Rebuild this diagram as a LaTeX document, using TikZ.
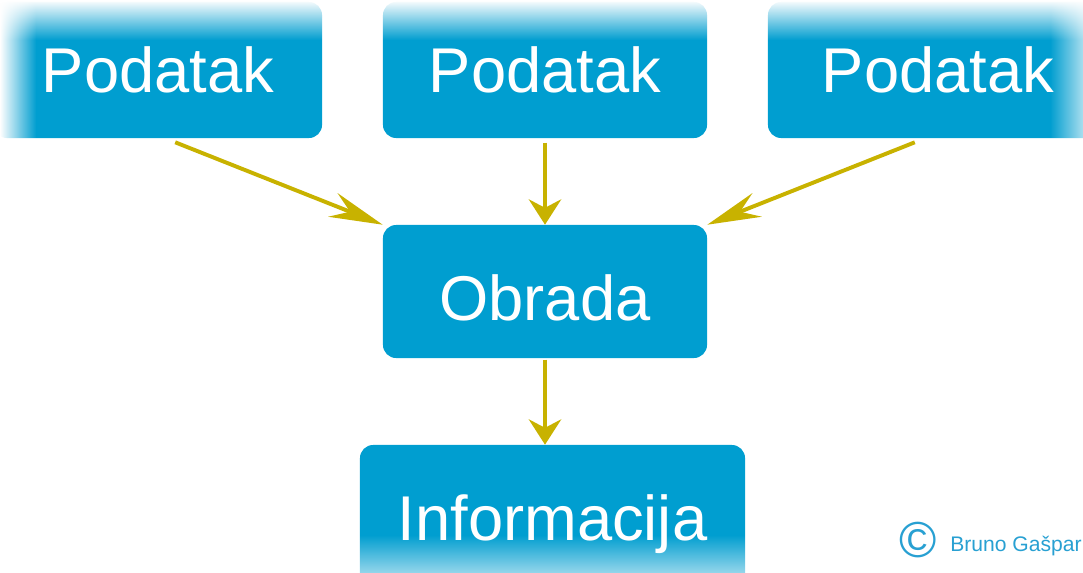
\documentclass[tikz,border=0pt]{standalone}
\usepackage{fontspec}
\setmainfont{Liberation Sans}
\usetikzlibrary{arrows.meta,fadings}
\definecolor{boxblue}{RGB}{0,158,208}
\definecolor{arrowgold}{RGB}{200,178,0}
\definecolor{signblue}{RGB}{40,160,210}

\begin{document}
\begin{tikzpicture}[x=0.025cm,y=-0.025cm,
  box/.style={rectangle,rounded corners=0.33cm,fill=boxblue,text=white,inner sep=0pt,font=\fontsize{45}{50}\selectfont,text height=32pt,text depth=0pt},
  flow/.style={draw=arrowgold,line width=2.8pt,-{Stealth[length=18pt,width=23pt,inset=6pt]}},
  flowslant/.style={draw=arrowgold,line width=2.8pt,-{Stealth[length=38pt,width=18pt,inset=13pt]}}]

\useasboundingbox (0,0) rectangle (1083,572);

\draw(158,70) node[box,minimum width=8.2cm,minimum height=3.4cm](p1){Podatak};

\draw(545,70) node[box,minimum width=8.1cm,minimum height=3.4cm](p2){Podatak};

\draw(938,70) node[box,minimum width=8.5cm,minimum height=3.4cm](p3){Podatak};

\draw(545,291.5) node[box,minimum width=8.1cm,minimum height=3.325cm,text height=40.6pt](obrada){Obrada};

\draw(552.5,517.5) node[box,minimum width=9.625cm,minimum height=3.625cm](info){Informacija};

% faded edges
\fill[white,path fading=south] (0,0) rectangle (1083,40);
\fill[white,path fading=east] (0,0) rectangle (36,145);
\fill[white,path fading=west] (1050,0) rectangle (1100,572);
\fill[white,path fading=north] (340,535) rectangle (770,600);

\draw(918,557) node[anchor=base,text=signblue,inner sep=0pt,font=\fontsize{36}{40}\selectfont](sign){©};
\draw(950,551) node[anchor=base west,text=signblue,inner sep=0pt,font=\fontsize{15}{18}\selectfont](autor){Bruno Gašpar};

\draw [flowslant] ([xshift=0.43cm,yshift=-0.1cm]p1.south) -- (obrada.north west);
\draw [flow,shorten <=3pt] (p2.south) -- (obrada.north);
\draw [flowslant] ([xshift=-0.58cm,yshift=-0.1cm]p3.south) -- (obrada.north east);
\draw [flow,shorten <=1pt] (obrada.south) -- (obrada.south |- info.north);

\end{tikzpicture}
\end{document}
